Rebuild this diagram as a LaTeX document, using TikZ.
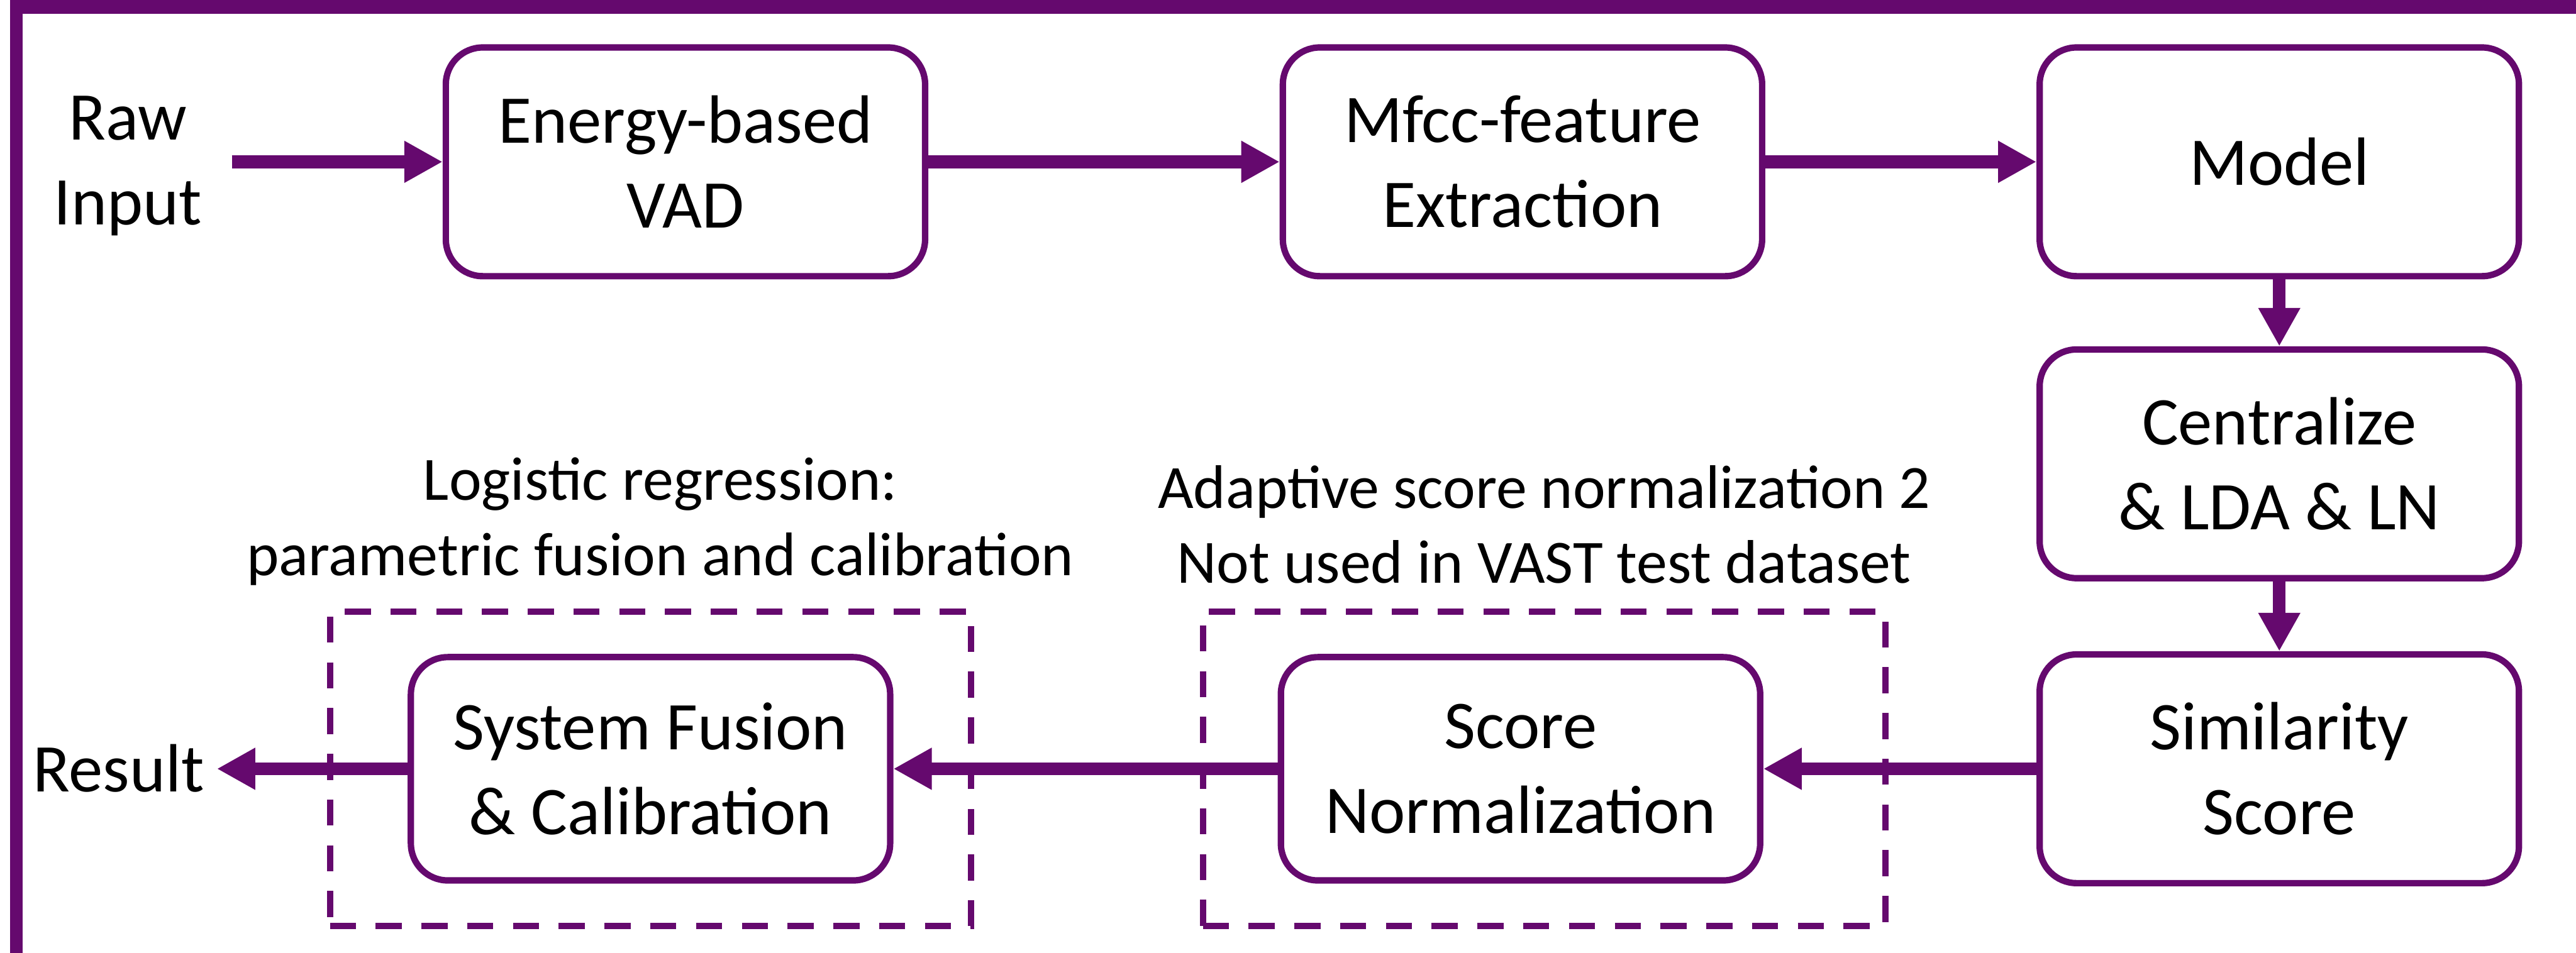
\documentclass[tikz,border=0pt]{standalone}
\usepackage{fontspec}
\setmainfont{Carlito}
\usepackage{xcolor}
\usepackage{tikz}
\usetikzlibrary{arrows.meta,positioning,fit}

\definecolor{vpurple}{HTML}{65096E}
\newcommand{\blockfont}{\fontsize{39.5pt}{49pt}\selectfont}
\newcommand{\notefont}{\fontsize{35.6pt}{43.5pt}\selectfont}

\begin{document}
\begin{tikzpicture}[->, >={Triangle[length=7.8mm, width=8mm]},
  every edge/.style={draw=vpurple, line width=2.6mm},
  block/.style={draw=vpurple, line width=1.3mm, rounded corners=7.5mm, minimum width=9.74cm, minimum height=4.65cm, align=center, font=\blockfont},
  plain/.style={align=center, font=\blockfont, inner sep=0pt, outer sep=0pt},
  group/.style={draw=vpurple, line width=1.3mm, dash pattern=on 5.3mm off 4mm},
  note/.style={align=center, font=\notefont, inner sep=0pt, outer sep=0pt, text depth=0pt}]

\path[use as bounding box] (0,0) rectangle (52.35,-19.37);
% frame
\fill[vpurple] (0.21,0) rectangle (52.35,-0.28);
\fill[vpurple] (0.21,0) rectangle (0.46,-19.37);

\node [block] (energy) at (13.93,-3.29) {Energy-based\\VAD};
\node [block, right=7.14cm of energy] (mfcc) {Mfcc-feature\\Extraction};
\node [block, right=5.51cm of mfcc] (model) {Model};
\node [block, below=1.36cm of model] (cent) {Centralize\\\& LDA \& LN};
\node [block, below=1.42cm of cent] (sim) {Similarity\\Score};
\node [block, left=5.55cm of sim, minimum height=4.54cm] (norm) {Score\\Normalization};
\node [block, left=7.81cm of norm, minimum height=4.54cm] (fusion) {System Fusion\\\& Calibration};

\node [plain] (raw) at (2.60,-3.37) {Raw\\Input};
\node [plain] (result) at (2.41,-15.62) {Result};

% dashed groups
\node [group, fit=(fusion), inner xsep=1.58cm, inner ysep=0.86cm] (fusiongrp) {};
\node [group, fit=(norm), inner xsep=2.0cm, inner ysep=0.86cm, xshift=4.8mm] (normgrp) {};
\node [note, above=6.7mm of fusiongrp, xshift=2mm] (fusionnote) {Logistic regression:\\parametric fusion and calibration};
\node [note, above=5.1mm of normgrp] (normnote) {Adaptive score normalization 2\\Not used in VAST test dataset};

\path
(raw.east |- energy) edge [shorten <=6.1mm] (energy)
(energy) edge (mfcc)
(mfcc) edge (model)
(model) edge (cent)
(cent) edge (sim)
(sim) edge (norm)
(norm) edge (fusion)
(fusion) edge [shorten >=2.6mm] (result.east |- fusion);
\end{tikzpicture}
\end{document}
